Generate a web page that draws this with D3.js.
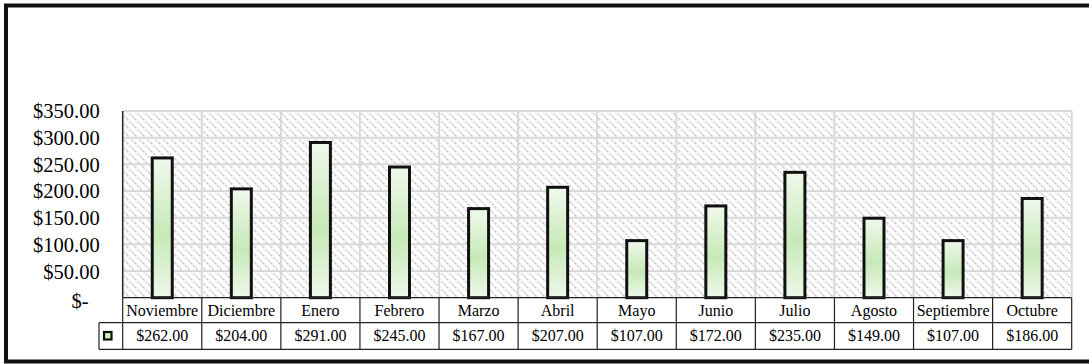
<!DOCTYPE html>
<html>
<head>
<meta charset="utf-8">
<script src="https://cdn.jsdelivr.net/npm/d3@7/dist/d3.min.js"></script>
<style>
  html, body { margin: 0; padding: 0; background: #fff; }
  svg { display: block; }
  text { font-family: "Liberation Serif", "Times New Roman", serif; fill: #000; }
</style>
</head>
<body>
<svg id="chart" width="1089" height="364"></svg>
<script>
// Monthly amounts shown in the column chart and its data table
const months = ["Noviembre", "Diciembre", "Enero", "Febrero", "Marzo", "Abril",
                "Mayo", "Junio", "Julio", "Agosto", "Septiembre", "Octubre"];
const amounts = [262, 204, 291, 245, 167, 207, 107, 172, 235, 149, 107, 186];
const yTicks = [0, 50, 100, 150, 200, 250, 300, 350];

const svg = d3.select("#chart");
const W = 1089, H = 364;

// Layout
const plot = { left: 122.7, right: 1071.7, top: 111, bottom: 297.7 };
const tableRow1 = { top: 297.7, bottom: 322.7 };
const tableRow2 = { top: 322.7, bottom: 349.3 };
const keyLeft = 99;

const x = d3.scaleBand().domain(months).range([plot.left, plot.right]).paddingInner(0).paddingOuter(0);
const y = d3.scaleLinear().domain([0, 350]).range([plot.bottom, plot.top]);

const fmt = v => v === 0 ? "$-" : "$" + d3.format(",.2f")(v);

const defs = svg.append("defs");

// Diagonal hatch used as the plot-area fill
const pat = defs.append("pattern")
  .attr("id", "hatch").attr("patternUnits", "userSpaceOnUse")
  .attr("width", 8).attr("height", 8);
pat.append("rect").attr("width", 8).attr("height", 8).attr("fill", "#fff");
pat.append("path").attr("d", "M-1,-1 L9,9 M-1,7 L1,9 M7,-1 L9,1")
  .attr("stroke", "#cdcdcd").attr("stroke-width", 1.6)
  .attr("stroke-dasharray", "2.2,1.2");

// Column fill: pale at the ends, greener toward the middle
const grad = defs.append("linearGradient")
  .attr("id", "barFill").attr("x1", 0).attr("y1", 0).attr("x2", 0).attr("y2", 1);
grad.append("stop").attr("offset", "0%").attr("stop-color", "#f0f9ec");
grad.append("stop").attr("offset", "55%").attr("stop-color", "#c7e9b8");
grad.append("stop").attr("offset", "100%").attr("stop-color", "#eef8ea");

// Outer frame
svg.append("rect")
  .attr("x", 6).attr("y", 5.5).attr("width", W + 10).attr("height", H - 8)
  .attr("fill", "#fff").attr("stroke", "#111").attr("stroke-width", 4);

// Plot background
svg.append("rect")
  .attr("x", plot.left).attr("y", plot.top)
  .attr("width", plot.right - plot.left).attr("height", plot.bottom - plot.top)
  .attr("fill", "url(#hatch)");

// Horizontal gridlines
svg.append("g").selectAll("line").data(yTicks.filter(d => d > 0)).join("line")
  .attr("x1", plot.left).attr("x2", plot.right)
  .attr("y1", d => y(d)).attr("y2", d => y(d))
  .attr("stroke", "#d9d9d9").attr("stroke-width", 2);

// Vertical gridlines at category boundaries
const bounds = months.map(m => x(m)).concat([plot.right]);
svg.append("g").selectAll("line").data(bounds.slice(1)).join("line")
  .attr("x1", d => d).attr("x2", d => d)
  .attr("y1", plot.top).attr("y2", plot.bottom)
  .attr("stroke", "#d9d9d9").attr("stroke-width", 2);

// Columns
const barW = 20;
svg.append("g").selectAll("rect").data(months).join("rect")
  .attr("x", (d) => x(d) + x.bandwidth() / 2 - barW / 2)
  .attr("y", (d, i) => y(amounts[i]))
  .attr("width", barW)
  .attr("height", (d, i) => y(0) - y(amounts[i]))
  .attr("fill", "url(#barFill)")
  .attr("stroke", "#111").attr("stroke-width", 3);

// Value axis line
svg.append("line")
  .attr("x1", plot.left).attr("x2", plot.left)
  .attr("y1", plot.top).attr("y2", plot.bottom)
  .attr("stroke", "#222").attr("stroke-width", 1.5);

// Value axis labels
const yAxis = d3.axisLeft(y).tickValues(yTicks).tickSize(0).tickFormat(fmt);
const ga = svg.append("g").attr("transform", `translate(${plot.left - 23},0)`).call(yAxis);
ga.select(".domain").remove();
ga.selectAll("text")
  .attr("font-size", 20.5)
  .attr("font-family", "Liberation Serif, Times New Roman, serif")
  .attr("fill", "#000")
  .attr("dy", "0.34em")
  .attr("x", d => d === 0 ? -11 : 0)
  .attr("y", d => d === 0 ? 3 : 0);

// Data table
const tbl = svg.append("g").attr("stroke", "#222").attr("stroke-width", 1.2);
tbl.append("line").attr("x1", plot.left).attr("x2", plot.right)
  .attr("y1", tableRow1.top).attr("y2", tableRow1.top);
tbl.append("line").attr("x1", keyLeft).attr("x2", plot.right)
  .attr("y1", tableRow2.top).attr("y2", tableRow2.top);
tbl.append("line").attr("x1", keyLeft).attr("x2", plot.right)
  .attr("y1", tableRow2.bottom).attr("y2", tableRow2.bottom);
tbl.append("line").attr("x1", keyLeft).attr("x2", keyLeft)
  .attr("y1", tableRow2.top).attr("y2", tableRow2.bottom);
tbl.selectAll("line.sep").data(bounds).join("line").attr("class", "sep")
  .attr("x1", d => d).attr("x2", d => d)
  .attr("y1", tableRow1.top).attr("y2", tableRow2.bottom);

svg.append("g").selectAll("text").data(months).join("text")
  .attr("x", d => x(d) + x.bandwidth() / 2)
  .attr("y", (tableRow1.top + tableRow1.bottom) / 2)
  .attr("dy", "0.34em")
  .attr("text-anchor", "middle").attr("font-size", 16)
  .text(d => d);

svg.append("g").selectAll("text").data(months).join("text")
  .attr("x", d => x(d) + x.bandwidth() / 2)
  .attr("y", (tableRow2.top + tableRow2.bottom) / 2)
  .attr("dy", "0.34em")
  .attr("text-anchor", "middle").attr("font-size", 16)
  .text((d, i) => fmt(amounts[i]));

// Legend key in the table
svg.append("rect")
  .attr("x", 104).attr("y", 332).attr("width", 7.5).attr("height", 7.5)
  .attr("fill", "#cfeec2").attr("stroke", "#111").attr("stroke-width", 2.2);
</script>
</body>
</html>
